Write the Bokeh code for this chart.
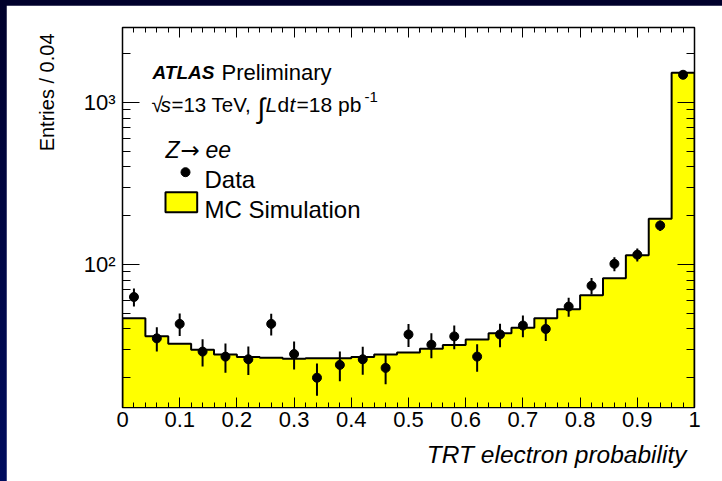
import math
from bokeh.plotting import figure
from bokeh.models import FixedTicker, LinearAxis, LogAxis, Title, Range1d
from bokeh.layouts import column
from bokeh.core.properties import value
from bokeh.embed import file_html
from bokeh.resources import INLINE

# ---------------- data ----------------
bin_centers = [0.02, 0.06, 0.10, 0.14, 0.18, 0.22, 0.26, 0.30, 0.34, 0.38,
               0.42, 0.46, 0.50, 0.54, 0.58, 0.62, 0.66, 0.70, 0.74, 0.78,
               0.82, 0.86, 0.90, 0.94, 0.98]
bin_width = 0.04
mc_simulation = [46.6, 36.1, 32.4, 29.8, 27.8, 26.9, 26.6, 26.2, 26.4, 26.4,
                 26.9, 27.8, 28.6, 30.2, 31.9, 34.4, 37.7, 40.7, 46.6, 53.0,
                 64.6, 82.3, 114.1, 191.5, 1525.0]
data_counts = [63, 35, 43, 29, 27, 26, 43, 28, 20, 24,
               26, 23, 37, 32, 36, 27, 37, 42, 40, 55,
               74, 101, 115, 174, 1483]
data_errors = [8.0, 6.0, 6.8, 5.5, 5.5, 5.2, 6.6, 5.5, 4.5, 5.0,
               5.1, 4.8, 6.0, 5.6, 6.0, 5.2, 6.1, 6.5, 6.3, 7.4,
               8.6, 10.0, 10.7, 13.0, 38.0]
x_tick_values = [0.0, 0.1, 0.2, 0.3, 0.4, 0.5, 0.6, 0.7, 0.8, 0.9, 1.0]
x_tick_labels = ["0", "0.1", "0.2", "0.3", "0.4", "0.5", "0.6", "0.7", "0.8", "0.9", "1"]
y_tick_values = [100, 1000]
y_tick_labels = ["10\u00b2", "10\u00b3"]

FONT = "Liberation Sans"
Y_LO, Y_HI = 13.1, 2904.0

# --------------- figure ---------------
p = figure(width=716, height=476, x_range=Range1d(0, 1), y_range=Range1d(Y_LO, Y_HI),
           y_axis_type="log", output_backend="svg", toolbar_location=None,
           min_border_left=116, min_border_right=28, min_border_top=22, min_border_bottom=74,
           background_fill_color="white", border_fill_color="white",
           outline_line_color="black", outline_line_width=1.5)
p.margin = (5, 0, 0, 6)
p.grid.visible = False

# pixel (image coords) -> data helpers for annotation placement
FL, FW, FT, FH = 122.0, 572.0, 27.0, 380.0
LHI, LLO = math.log10(Y_HI), math.log10(Y_LO)
def fx(px):
    return (px - FL) / FW
def fy(py):
    return 10 ** (LHI - (py - FT) / FH * (LHI - LLO))

# --------------- histogram ---------------
lefts = [c - bin_width / 2 for c in bin_centers]
rights = [c + bin_width / 2 for c in bin_centers]
sx, sy = [lefts[0]], [1]
for l, r, v in zip(lefts, rights, mc_simulation):
    sx += [l, r]
    sy += [v, v]
sx.append(rights[-1]); sy.append(1)
p.patch(sx, sy, fill_color="#ffff00", line_color=None)
p.line(sx, sy, line_color="black", line_width=2)

# --------------- data points ---------------
lo = [d - e for d, e in zip(data_counts, data_errors)]
hi = [d + e for d, e in zip(data_counts, data_errors)]
p.segment(x0=bin_centers, y0=lo, x1=bin_centers, y1=hi, line_color="black", line_width=2)
p.scatter(bin_centers, data_counts, size=9, color="black")

# --------------- axes ---------------
xt = FixedTicker(ticks=x_tick_values, minor_ticks=[round(0.02 * i, 2) for i in range(51)])
yminor = [k * 10 for k in range(2, 10)] + [k * 100 for k in range(2, 10)] + [2000]
yt = FixedTicker(ticks=y_tick_values, minor_ticks=yminor)

xa = p.xaxis[0]
xa.ticker = xt
xa.major_label_overrides = dict(zip(x_tick_values, x_tick_labels))
ya = p.yaxis[0]
ya.ticker = yt
ya.major_label_overrides = dict(zip(y_tick_values, y_tick_labels))

for ax, maj, mnr in ((xa, 10, 5), (ya, 17, 8)):
    ax.major_tick_in = maj
    ax.major_tick_out = 0
    ax.minor_tick_in = mnr
    ax.minor_tick_out = 0
    ax.axis_line_color = "black"
    ax.major_tick_line_color = "black"
    ax.minor_tick_line_color = "black"
    ax.major_label_text_font = FONT
    ax.major_label_text_font_size = "22px"
    ax.major_label_text_color = "black"
xa.major_label_standoff = 4
ya.major_label_standoff = 7

top_ax = LinearAxis(ticker=xt, major_tick_in=10, major_tick_out=0, minor_tick_in=5,
                    minor_tick_out=0, major_label_text_font_size="1px", major_label_standoff=0,
                    major_label_text_color=None, axis_line_color="black")
right_ax = LogAxis(ticker=yt, major_tick_in=17, major_tick_out=0, minor_tick_in=8,
                   minor_tick_out=0, major_label_text_font_size="1px", major_label_standoff=0,
                   major_label_text_color=None, axis_line_color="black")
p.add_layout(top_ax, "above")
p.add_layout(right_ax, "right")

p.add_layout(Title(text="Entries / 0.04", align="right", text_font=FONT, text_font_size="20px",
                   text_font_style="normal", text_color="black", standoff=45, offset=6), "left")
p.add_layout(Title(text="TRT electron probability", align="right", text_font=FONT,
                   text_font_size="24.5px", text_font_style="italic", text_color="black",
                   standoff=19, offset=8), "below")

# --------------- annotation texts ---------------
def txt(px, py, s, size, style="normal", font=FONT):
    p.text(x=[fx(px)], y=[fy(py)], text=[s], text_font=value(font), text_font_size=size,
           text_font_style=style, text_baseline="alphabetic", text_align="left", text_color="black")

txt(152, 72, "ATLAS", "19px", "bold italic")
txt(221, 72, "Preliminary", "22px")
txt(151, 104, "\u221a", "21px")
txt(160, 104, "s", "21px", "italic")
txt(171, 104, "=13 TeV,", "20.5px")
txt(257, 108, "\u222b", "28px")
txt(265, 104, "L", "21px", "italic")
txt(277, 104, "d", "21px")
txt(289, 104, "t", "21px", "italic")
txt(296, 104, "=18 pb", "21px")
txt(364, 96, "-1", "15px")
txt(165, 149, "Z", "23px", "italic")
txt(180, 149, "\u2192", "23px", "normal", "DejaVu Sans")
txt(205, 149, "ee", "23px", "italic")
p.scatter([fx(185)], [fy(171.7)], size=9, color="black")
txt(204, 179, "Data", "24px")
p.quad(left=[fx(165)], right=[fx(196.7)], top=[fy(191.7)], bottom=[fy(211.7)],
       fill_color="#ffff00", line_color="black", line_width=2)
txt(204, 209, "MC Simulation", "24px")

layout = column(p, width=722, height=481,
                styles={"background": "linear-gradient(180deg, #00002b 0%, #000c5e 100%)"})
open("out.html", "w").write(file_html(layout, INLINE))
